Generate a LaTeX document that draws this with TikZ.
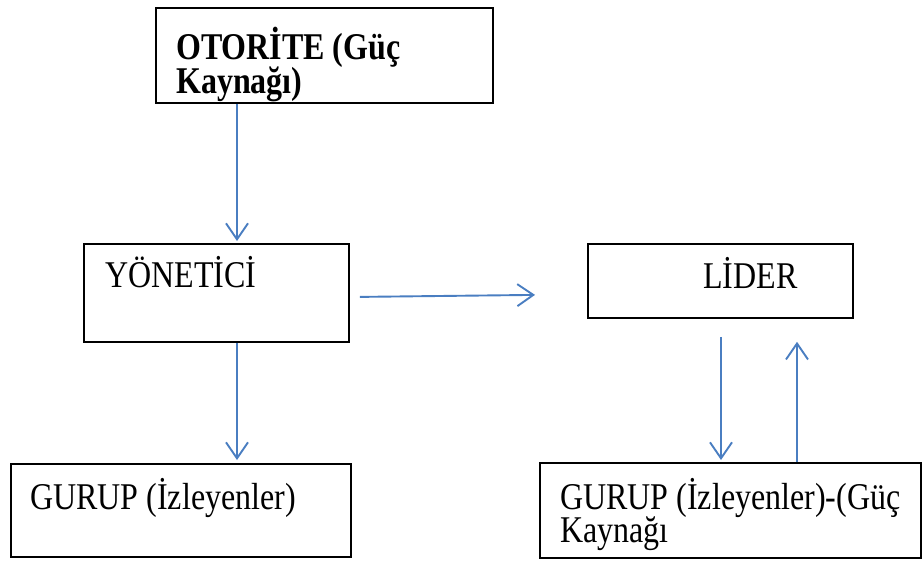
\documentclass[tikz,border=0pt]{standalone}
\usepackage{fontspec}
\usepackage{graphicx}
\setmainfont{Liberation Serif}
\usetikzlibrary{arrows.meta,calc}
\definecolor{arrblue}{RGB}{74,126,193}
\newcommand{\vtall}[1]{\scalebox{1}[1.18]{#1}}
\newcommand{\fixskip}{\lineskiplimit -100pt\relax}
\begin{document}
\begin{tikzpicture}[x=1pt,y=-1pt,
  box/.style={draw=black, line width=1.8pt, rectangle, inner sep=0pt, anchor=north west},
  txt/.style={font=\fontsize{32}{34}\selectfont\fixskip, inner sep=0pt, align=left, anchor=base west},
  arr/.style={draw=arrblue, line width=1.9pt, -{Straight Barb[length=16pt,width=22pt,line width=1.9pt]}}]
\useasboundingbox (0,0) rectangle (924,563);
\node[box, minimum width=337pt, minimum height=95pt] (oto) at (155,7) {};
\node[box, minimum width=265pt, minimum height=98pt] (yon) at (83,243) {};
\node[box, minimum width=265pt, minimum height=74pt] (lid) at (587,243) {};
\node[box, minimum width=340pt, minimum height=93pt] (g1) at (10,463) {};
\node[box, minimum width=381pt, minimum height=95pt] (g2) at (539,462) {};
\node[txt, font=\fontsize{32}{34}\selectfont\fixskip\bfseries] (otot) at (176,93) {\vtall{OTORİTE (Güç}\\\vtall{Kaynağı)}};
\node[txt] (yont) at (105,287) {\vtall{YÖNETİCİ}};
\node[txt] (lidt) at (703,288) {\vtall{LİDER}};
\node[txt] (g1t) at (30,509) {\vtall{GURUP (İzleyenler)}};
\node[txt, font=\fontsize{32}{33}\selectfont\fixskip] (g2t) at (560,542) {\vtall{GURUP (İzleyenler)-(Güç}\\\vtall{Kaynağı}};
\draw[arr] ($(oto.south west)+(82,0)$) -- ($(yon.north west)+(154,-2)$);
\draw[arr] ($(yon.south west)+(154,0)$) -- ($(g1.north west)+(227,-3)$);
\draw[arr] ($(yon.east)+(10,4)$) -- ($(lid.west)+(-52,14)$);
\draw[arr] ($(lid.south west)+(134,18)$) -- ($(g2.north west)+(182,-2)$);
\draw[arr] ($(g2.north west)+(258,0)$) -- ($(lid.south west)+(210,23)$);
\end{tikzpicture}
\end{document}
